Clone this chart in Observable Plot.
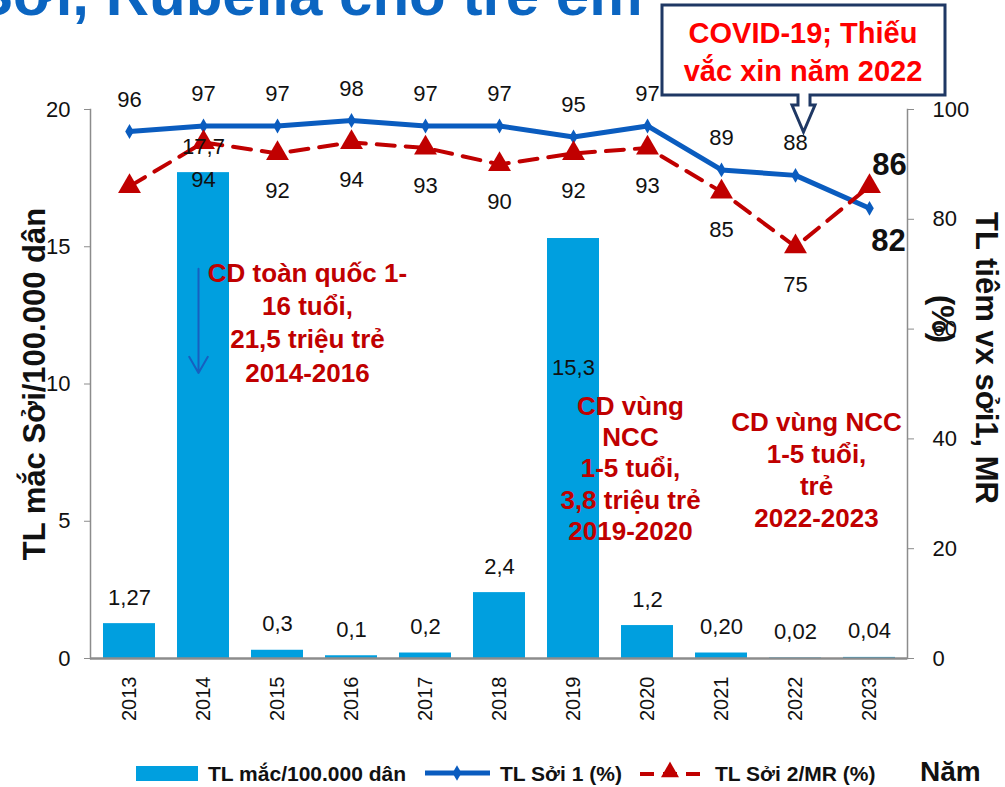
<!DOCTYPE html>
<html>
<head>
<meta charset="utf-8">
<script src="https://cdn.jsdelivr.net/npm/d3@7"></script>
<script src="https://cdn.jsdelivr.net/npm/@observablehq/plot@0.6"></script>
<style>
  body { margin: 0; background: #fff; font-family: "Liberation Sans", Arial, sans-serif; }
  #wrap { position: relative; width: 1005px; height: 787px; overflow: hidden; background: #fff; }
  #chart { position: absolute; left: 0; top: 0; }
  #overlay { position: absolute; left: 0; top: 0; }
  #legend { position: absolute; left: 0; top: 745px; }
</style>
</head>
<body>
<div id="wrap">
  <div id="chart"></div>
  <svg id="overlay" width="1005" height="140" font-family='"Liberation Sans", Arial, sans-serif'>
    <text x="-27" y="15" font-size="60" font-weight="bold" fill="#0B65C1">Sởi, Rubella cho trẻ em</text>
    <path d="M662,5 H945 V95 H810 V105 H815 L803.5,132 L792,105 H798 V95 H662 Z" fill="#fff" stroke="#1F3864" stroke-width="3" stroke-linejoin="miter"/>
    <text x="803" y="35" font-size="29" font-weight="bold" fill="#FF0000" text-anchor="middle" dominant-baseline="middle">COVID-19; Thiếu</text>
    <text x="803" y="73" font-size="29" font-weight="bold" fill="#FF0000" text-anchor="middle" dominant-baseline="middle">vắc xin năm 2022</text>
  </svg>
  <svg id="legend" width="1005" height="42" font-family='"Liberation Sans", Arial, sans-serif'></svg>
</div>
<script>
// ---- data ----
const years = ["2013","2014","2015","2016","2017","2018","2019","2020","2021","2022","2023"];
const cases = [1.27, 17.7, 0.3, 0.1, 0.2, 2.4, 15.3, 1.2, 0.20, 0.02, 0.04];
const caseLabels = ["1,27","17,7","0,3","0,1","0,2","2,4","15,3","1,2","0,20","0,02","0,04"];
const mcv1 = [96, 97, 97, 98, 97, 97, 95, 97, 89, 88, 82];
const mcv2 = [86, 94, 92, 94, 93, 90, 92, 93, 85, 75, 86];
const mcv2Labels = ["", "94", "92", "94", "93", "90", "92", "93", "85", "75", "86"];
const leftTicks = [0, 5, 10, 15, 20];
const rightTicks = [0, 20, 40, 60, 80, 100];
const seriesNames = ["TL mắc/100.000 dân", "TL Sởi 1 (%)", "TL Sởi 2/MR (%)"];
const xTitle = "Năm";
const leftTitle = "TL mắc Sởi/100.000 dân";
const rightTitle = ["TL tiêm vx sởi1, MR", "(%)"];
const note1 = "CD toàn quốc 1-\n16 tuổi,\n21,5 triệu trẻ\n2014-2016";
const note2 = "CD vùng\nNCC\n1-5 tuổi,\n3,8 triệu trẻ\n2019-2020";
const note3 = "CD vùng NCC\n1-5 tuổi,\ntrẻ\n2022-2023";

const FONT = '"Liberation Sans", Arial, sans-serif';
const BAR = "#009FDF", BLUE = "#0A5CBF", RED = "#C00000", DARKRED = "#C00000";
const k = 20 / 100; // right axis (0-100 %) mapped onto left axis (0-20)

const data = years.map((year, i) => ({
  year, cases: cases[i], caseLabel: caseLabels[i],
  mcv1: mcv1[i], mcv2: mcv2[i], mcv2Label: mcv2Labels[i]
}));

const chart = Plot.plot({
  width: 1005, height: 745,
  marginLeft: 90, marginRight: 98, marginTop: 109, marginBottom: 87,
  style: { fontFamily: FONT, background: "transparent", overflow: "visible", color: "#111" },
  x: { type: "band", domain: years, paddingInner: 0.3, paddingOuter: 0.15 },
  y: { domain: [0, 20] },
  marks: [
    Plot.barY(data, { x: "year", y: "cases", fill: BAR }),
    Plot.frame({ anchor: "left", stroke: "#8c8c8c", strokeWidth: 1.5 }),
    Plot.frame({ anchor: "right", stroke: "#8c8c8c", strokeWidth: 1.5 }),
    Plot.ruleY([0], { stroke: "#8c8c8c", strokeWidth: 2.5 }),
    Plot.axisY(leftTicks, { anchor: "left", tickSize: 6, tickPadding: 14, fontSize: 22, stroke: "#8c8c8c", fill: "#111", label: null }),
    Plot.axisY(rightTicks.map(d => d * k), { anchor: "right", tickFormat: d => String(Math.round(d / k)), tickSize: 6, tickPadding: 19, fontSize: 22, stroke: "#8c8c8c", fill: "#111", label: null }),
    Plot.axisX({ tickRotate: -90, tickSize: 0, tickPadding: 18, fontSize: 20, fill: "#111", label: null }),
    // lines
    Plot.line(data, { x: "year", y: d => d.mcv1 * k, stroke: BLUE, strokeWidth: 5 }),
    Plot.dot(data, { x: "year", y: d => d.mcv1 * k, symbol: "diamond", r: 4.5, fill: BLUE }),
    Plot.line(data, { x: "year", y: d => d.mcv2 * k, stroke: RED, strokeWidth: 4, strokeDasharray: "18,11" }),
    Plot.dot(data, { x: "year", y: d => d.mcv2 * k, symbol: "triangle", r: 8.5, fill: RED }),
    // bar labels
    Plot.text(data.filter(d => d.year !== "2019"), { x: "year", y: "cases", text: "caseLabel", dy: -26, fontSize: 22, fill: "#111" }),
    Plot.text(data.filter(d => d.year === "2019"), { x: "year", y: "cases", text: "caseLabel", dy: 129, fontSize: 22, fill: "#111" }),
    // line labels
    Plot.text(data.filter(d => d.year !== "2023"), { x: "year", y: d => d.mcv1 * k, text: d => String(d.mcv1), dy: -32, fontSize: 22, fill: "#111" }),
    Plot.text(data.filter(d => d.year === "2023"), { x: "year", y: d => d.mcv1 * k, text: d => String(d.mcv1), dy: 33, dx: 19, fontSize: 31, fontWeight: "bold", fill: "#111" }),
    Plot.text(data.filter(d => d.mcv2Label && d.year !== "2023"), { x: "year", y: d => d.mcv2 * k, text: "mcv2Label", dy: 38, fontSize: 22, fill: "#111" }),
    Plot.text(data.filter(d => d.year === "2023"), { x: "year", y: d => d.mcv2 * k, text: "mcv2Label", dy: -21, dx: 20, fontSize: 31, fontWeight: "bold", fill: "#111" }),
    // annotations
    Plot.arrow([{ a: 14.2, b: 10.4 }], { x1: () => "2014", x2: () => "2014", y1: "a", y2: "b", dx: -5, stroke: "#1660C0", strokeWidth: 2, headLength: 14 }),
    Plot.text([note1], { x: () => "2015", y: () => 12.28, dx: 30, text: d => d, fontSize: 26, fontWeight: "bold", fill: DARKRED, lineHeight: 1.27 }),
    Plot.text([note2], { x: () => "2020", y: () => 6.96, dx: -17, text: d => d, fontSize: 26, fontWeight: "bold", fill: DARKRED, lineHeight: 1.2 }),
    Plot.text([note3], { x: () => "2022", y: () => 6.92, dx: 21, text: d => d, fontSize: 26, fontWeight: "bold", fill: DARKRED, lineHeight: 1.23 }),
    // axis titles
    Plot.text([leftTitle], { frameAnchor: "left", textAnchor: "middle", dx: -55, rotate: -90, text: d => d, fontSize: 31, fontWeight: "bold", fill: "#111" }),
    Plot.text([rightTitle[0]], { frameAnchor: "right", textAnchor: "middle", dx: 78, dy: -26, rotate: 90, text: d => d, fontSize: 31, fontWeight: "bold", fill: "#111" }),
    Plot.text([rightTitle[1]], { frameAnchor: "right", textAnchor: "middle", dx: 34, dy: -65, rotate: 90, text: d => d, fontSize: 31, fontWeight: "bold", fill: "#111" })
  ]
});
document.getElementById("chart").appendChild(chart);

// ---- legend (below the chart) ----
const lg = d3.select("#legend");
lg.append("rect").attr("x", 136).attr("y", 21).attr("width", 62).attr("height", 15).attr("fill", BAR);
lg.append("text").attr("x", 208).attr("y", 36).attr("font-size", 21).attr("font-weight", "bold").attr("fill", "#111").text(seriesNames[0]);
lg.append("line").attr("x1", 425).attr("x2", 490).attr("y1", 28).attr("y2", 28).attr("stroke", BLUE).attr("stroke-width", 5);
lg.append("path").attr("d", d3.symbol(d3.symbolDiamond, 70)()).attr("transform", "translate(457,28)").attr("fill", BLUE);
lg.append("text").attr("x", 500).attr("y", 36).attr("font-size", 21).attr("font-weight", "bold").attr("fill", "#111").text(seriesNames[1]);
lg.append("line").attr("x1", 640).attr("x2", 702).attr("y1", 29).attr("y2", 29).attr("stroke", RED).attr("stroke-width", 4).attr("stroke-dasharray", "14,9");
lg.append("path").attr("d", d3.symbol(d3.symbolTriangle, 140)()).attr("transform", "translate(670,27)").attr("fill", RED);
lg.append("text").attr("x", 715).attr("y", 36).attr("font-size", 21).attr("font-weight", "bold").attr("fill", "#111").text(seriesNames[2]);
lg.append("text").attr("x", 920).attr("y", 36).attr("font-size", 28).attr("font-weight", "bold").attr("fill", "#111").text(xTitle);
</script>
</body>
</html>
